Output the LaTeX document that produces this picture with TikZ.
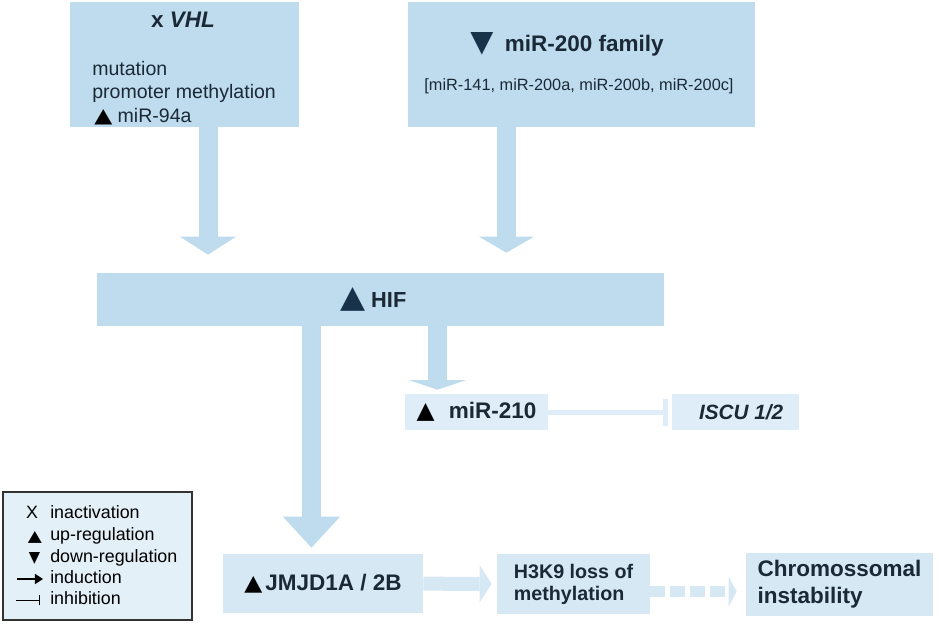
\documentclass[tikz,border=0pt]{standalone}
\usepackage{fontspec}
\setmainfont{Liberation Sans}
\newfontfamily\symfont{DejaVu Sans}
\usetikzlibrary{arrows.meta}

\definecolor{boxblue}{HTML}{BEDCEE}
\definecolor{paleblue}{HTML}{D6E8F4}
\definecolor{lightblue}{HTML}{DEEDF7}
\definecolor{legendblue}{HTML}{E4F0F8}
\definecolor{ink}{HTML}{1B2937}
\definecolor{navy}{HTML}{17324A}

% triangle glyph scaled to width x height (pt)
\newcommand{\tri}[3]{\resizebox{#1pt}{#2pt}{\symfont #3}}

\begin{document}
\begin{tikzpicture}[x=0.025cm,y=-0.025cm,
    box/.style={fill=boxblue,inner sep=0pt,text=ink},
    palebox/.style={fill=paleblue,inner sep=0pt,text=ink,align=left},
    lightbox/.style={fill=lightblue,inner sep=0pt,text=ink},
    blockarrow/.style args={#1/#2/#3}{color=boxblue,line width=#1,
        -{Triangle[width=#2,length=#3,line width=0pt]}},
    legtext/.style={anchor=base west,inner sep=0pt,font=\fontsize{12.7}{15}\selectfont}]
    \useasboundingbox (0,0) rectangle (945,624);

    % top boxes
    \node[box,minimum width=57.25mm,minimum height=31.25mm] (vhl) at (184.5,64.5) {};
    \node[box,minimum width=86.75mm,minimum height=31.25mm] (mir200) at (581.5,64.5) {};
    \node[anchor=base,inner sep=0pt,text=ink,font=\fontsize{16}{19}\selectfont\bfseries] (vhltitle) at (183,28) {x \textit{VHL}};
    \begin{scope}[every node/.style={anchor=base west,inner sep=0pt,text=ink,font=\fontsize{13.9}{17}\selectfont}]
        \node (mut) at (92,75) {mutation};
        \node (prom) at (92,99) {promoter methylation};
        \node (mir94) at (94,122) {\textcolor{black}{\tri{12.8}{9.2}{▲}} miR-94a};
    \end{scope}
    \node[anchor=base,inner sep=0pt,text=ink,font=\fontsize{16}{19}\selectfont\bfseries] (mir200title) at (567,52) {\textcolor{navy}{\tri{16.4}{13.5}{▼}}\hspace{8pt}miR-200 family};
    \node[anchor=base,inner sep=0pt,text=ink,font=\fontsize{11.6}{14}\selectfont] (mir200list) at (579,91) {[miR-141, miR-200a, miR-200b, miR-200c]};

    % HIF and targets
    \node[box,minimum width=141.75mm,minimum height=13.25mm,font=\fontsize{15.5}{18}\selectfont\bfseries] (hif) at (380.5,299.5) {\hspace{-10pt}\textcolor{navy}{\tri{17.8}{14.2}{▲}}\hspace{4pt}HIF};
    \node[lightbox,minimum width=35.75mm,minimum height=9mm,font=\fontsize{16}{19}\selectfont\bfseries] (mir210) at (476.5,412) {\textcolor{black}{\tri{12.8}{10.7}{▲}}\hspace{10pt}miR-210};
    \node[lightbox,minimum width=31.75mm,minimum height=9mm,font=\fontsize{14.7}{18}\selectfont\bfseries\itshape] (iscu) at (735.5,412) {\hspace{8pt}ISCU 1/2};
    \node[palebox,minimum width=50mm,minimum height=14.75mm,font=\fontsize{16}{19}\selectfont\bfseries] (jmjd) at (323,583.5) {\textcolor{black}{\tri{12.8}{10}{▲}}\hspace{2pt}JMJD1A / 2B};
    \node[palebox,minimum width=38.25mm,minimum height=15mm,font=\fontsize{14}{15.6}\selectfont\bfseries] (h3k9) at (573.5,584) {H3K9 loss of\\methylation};
    \node[palebox,minimum width=46.75mm,minimum height=15.75mm,font=\fontsize{16}{19}\selectfont\bfseries] (chromo) at (839.5,584.5) {Chromossomal\\instability};

    % connectors
    \draw[blockarrow=4.75mm/14mm/4.5mm,shorten >=4.5mm] ([xshift=5.875mm]vhl.south) -- ([xshift=5.875mm]vhl.south |- hif.north);
    \draw[blockarrow=4.75mm/13.75mm/4mm,shorten >=5mm] ([xshift=-18.75mm]mir200.south) -- ([xshift=-18.75mm]mir200.south |- hif.north);
    \draw[blockarrow=4.75mm/14.25mm/7.75mm,shorten >=1.5mm] ([xshift=-17.25mm]hif.south) -- ([xshift=-17.25mm]hif.south |- jmjd.north);
    \draw[blockarrow=4.75mm/14.25mm/2.4mm,shorten >=1mm] ([xshift=14.25mm]hif.south) -- ([xshift=14.25mm]hif.south |- mir210.north);
    \draw[color=lightblue,line width=1.25mm,-{Bar[width=6.75mm]},shorten >=1mm] (mir210) -- (iscu);
    \draw[blockarrow=3.5mm/9.25mm/3mm,color=paleblue,shorten >=1.25mm] (jmjd) -- (h3k9);
    \draw[blockarrow=2.75mm/7.5mm/2mm,color=paleblue,dash pattern=on 3.75mm off 1.25mm,shorten >=2.25mm] ([yshift=-1.875mm]h3k9.east) -- ([yshift=-1.875mm]h3k9.east -| chromo.west);

    % legend
    \node[draw=black!80,line width=0.8pt,fill=legendblue,minimum width=47.25mm,minimum height=32mm] (legend) at (97.5,556) {};
    \node[legtext] (lx) at (50,518) {inactivation};
    \node[legtext] (lup) at (50,540) {up-regulation};
    \node[legtext] (ldown) at (50,562) {down-regulation};
    \node[legtext] (lind) at (50,583) {induction};
    \node[legtext] (linh) at (50,604) {inhibition};
    \node[anchor=base,inner sep=0pt,font=\fontsize{12.7}{15}\selectfont] (sx) at (32,518) {X};
    \node[anchor=base,inner sep=0pt] (sup) at (35,541) {\tri{10}{7.1}{▲}};
    \node[anchor=base,inner sep=0pt] (sdown) at (34.5,562) {\tri{8}{7.1}{▼}};
    \coordinate (ia) at (17,579);
    \coordinate (ib) at (43,579);
    \coordinate (ha) at (16,600);
    \coordinate (hb) at (40,600);
    \draw[line width=0.7mm,-{Triangle[width=2.6mm,length=2mm,line width=0pt]}] (ia) -- (ib);
    \draw[line width=0.25mm,-{Bar[width=2.3mm]}] (ha) -- (hb);
\end{tikzpicture}
\end{document}
